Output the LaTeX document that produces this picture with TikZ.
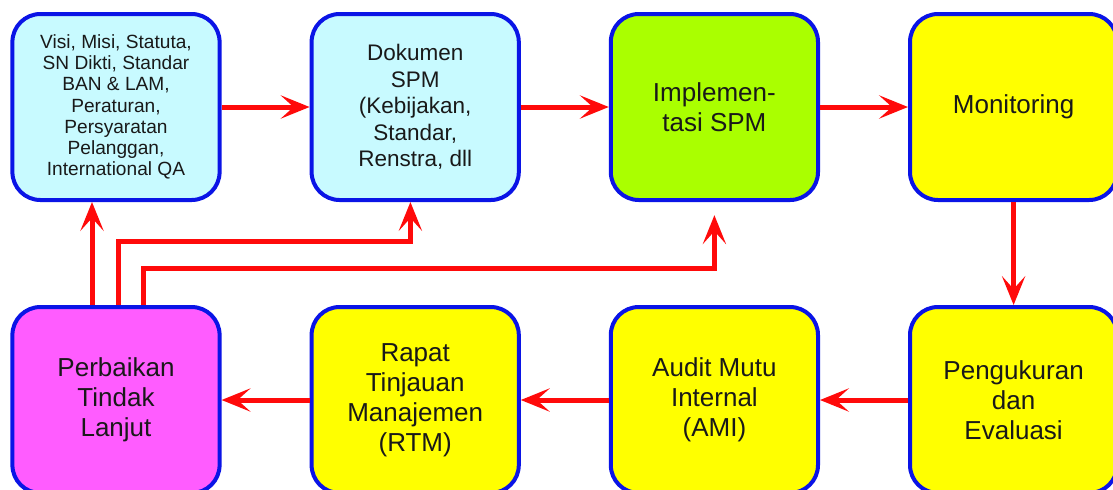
\documentclass[tikz,border=0pt]{standalone}
\usepackage{fontspec}
\setmainfont{Liberation Sans}
\usepackage{xcolor}
\usepackage{tikz}
\usetikzlibrary{arrows.meta,positioning,calc}

\definecolor{boxblue}{RGB}{10,20,230}
\definecolor{boxcyan}{RGB}{200,250,255}
\definecolor{boxgreen}{RGB}{170,255,0}
\definecolor{boxyellow}{RGB}{255,255,0}
\definecolor{boxmagenta}{RGB}{255,92,255}
\definecolor{flowred}{RGB}{255,10,10}
\definecolor{boxtext}{RGB}{25,25,25}

\begin{document}
\begin{tikzpicture}[
    box/.style={rectangle, draw=boxblue, line width=0.1cm, minimum width=5.18cm, minimum height=4.65cm, text centered, align=center, rounded corners=0.7cm, text=boxtext, font=\fontsize{18.5}{21.3}\selectfont},
    source/.style={box, fill=boxcyan},
    doing/.style={box, fill=boxgreen},
    check/.style={box, fill=boxyellow},
    action/.style={box, fill=boxmagenta},
    arrow/.style={-{Stealth[length=0.72cm, width=0.58cm, inset=0.32cm]}, draw=flowred, line width=0.125cm, miter limit=10},
    node distance=2.575cm and 2.2cm
]
    \useasboundingbox (0,0) rectangle (27.825,-12.225);

    % Top row
    \node[source, font=\fontsize{13.6}{15.1}\selectfont] (visi) at (2.9,-2.675) {Visi, Misi, Statuta,\\SN Dikti, Standar\\BAN \& LAM,\\Peraturan,\\Persyaratan\\Pelanggan,\\International QA};
    \node[source, right=of visi, font=\fontsize{16}{18.9}\selectfont] (dokumen) {Dokumen\\SPM\\(Kebijakan,\\Standar,\\Renstra, dll};
    \node[doing, right=of dokumen] (implementasi) {Implemen-\\tasi SPM};
    \node[check, right=of implementasi] (monitoring) {Monitoring};

    % Bottom row
    \node[check, below=of monitoring] (pengukuran) {Pengukuran\\dan\\Evaluasi};
    \node[check, below=of implementasi] (ami) {Audit Mutu\\Internal\\(AMI)};
    \node[check, below=of dokumen] (rtm) {Rapat\\Tinjauan\\Manajemen\\(RTM)};
    \node[action, below=of visi] (perbaikan) {Perbaikan\\Tindak\\Lanjut};

    \coordinate (tip3) at ([yshift=-0.33cm]implementasi.south);

    % Arrows
    \draw[arrow] (visi) -- (dokumen);
    \draw[arrow] (dokumen) -- (implementasi);
    \draw[arrow] (implementasi) -- (monitoring);
    \draw[arrow] (monitoring) -- (pengukuran);
    \draw[arrow] (pengukuran) -- (ami);
    \draw[arrow] (ami) -- (rtm);
    \draw[arrow] (rtm) -- (perbaikan);

    % Feedback
    \draw[arrow] ([xshift=-0.6cm]perbaikan.north) -- ([xshift=-0.6cm]visi.south);
    \draw[arrow] ([xshift=0.05cm]perbaikan.north) -- ++(0,1.6) -| ([xshift=-0.12cm]dokumen.south);
    \draw[arrow] ([xshift=0.68cm]perbaikan.north) -- ++(0,0.925) -| (tip3);
\end{tikzpicture}
\end{document}
